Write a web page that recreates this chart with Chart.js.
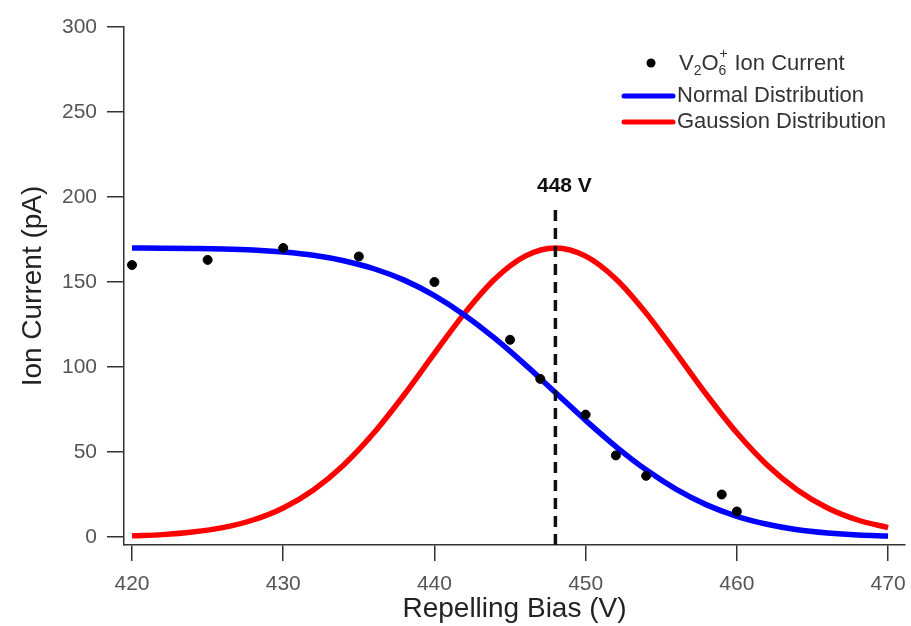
<!DOCTYPE html>
<html>
<head>
<meta charset="utf-8">
<script src="https://cdn.jsdelivr.net/npm/chart.js@4.4.1/dist/chart.umd.min.js"></script>
<style>
  html, body { margin: 0; padding: 0; background: #ffffff; }
  #wrap { position: relative; width: 911px; height: 626px; }
</style>
</head>
<body>
<div id="wrap"><canvas id="c" width="911" height="626"></canvas></div>
<script>
// ---- data ----
const measuredBias    = [420, 425, 430, 435, 440, 445, 447, 450, 452, 454, 459, 460];
const measuredCurrent = [160, 163, 170, 165, 150, 116, 93, 72, 48, 36, 25, 15];

const fitBias   = [420, 422, 424, 426, 428, 430, 432, 434, 436, 438, 440, 442, 444,
                   446, 448, 450, 452, 454, 456, 458, 460, 462, 464, 466, 468, 470];
const normalFit = [170, 169.9, 169.7, 169.4, 168.8, 167.6, 165.7, 162.5, 157.8, 151.1, 142, 130.5, 116.8,
                   101.4, 85, 68.6, 53.2, 39.5, 28, 18.9, 12.2, 7.5, 4.3, 2.4, 1.2, 0.6];
const gaussFit  = [0.7, 1.4, 2.9, 5.5, 10, 17.1, 27.7, 42.4, 61.3, 83.7, 108, 131.7, 151.8,
                   165.2, 170, 165.2, 151.8, 131.7, 108, 83.7, 61.3, 42.4, 27.7, 17.1, 10, 5.5];

const peakBias = [448, 448];
const peakLineCurrent = [-4.7, 195];
const peakLabel = "448 V";

const xTicks = [420, 430, 440, 450, 460, 470];
const yTicks = [0, 50, 100, 150, 200, 250, 300];

const seriesNames = ["Ion Current", "Normal Distribution", "Gaussion Distribution"];
const xTitle = "Repelling Bias (V)";
const yTitle = "Ion Current (pA)";

// ---- build ----
const pts = (xs, ys) => xs.map((x, i) => ({ x: x, y: ys[i] }));
const FONT = "'Liberation Sans', Arial, sans-serif";

const overlay = {
  id: 'overlay',
  afterDatasetsDraw(chart) {
    const ctx = chart.ctx;
    const xs = chart.scales.x, ys = chart.scales.y;
    ctx.save();
    // 448 V label
    ctx.fillStyle = '#111';
    ctx.font = "bold 21px " + FONT;
    ctx.textAlign = 'center';
    ctx.textBaseline = 'middle';
    ctx.fillText(peakLabel, xs.getPixelForValue(peakBias[0]) + 9, ys.getPixelForValue(peakLineCurrent[1]) - 19);

    // legend
    const lx = 624, rowY = [63, 96, 122];
    ctx.textAlign = 'left';
    ctx.textBaseline = 'middle';
    // row 1: marker
    ctx.fillStyle = '#000';
    ctx.beginPath(); ctx.arc(651, rowY[0], 4.5, 0, Math.PI * 2); ctx.fill();
    ctx.fillStyle = '#333';
    let tx = 679;
    const ly = rowY[0] + 1;
    ctx.font = "22px " + FONT;
    ctx.fillText("V", tx, ly); tx += ctx.measureText("V").width;
    ctx.font = "14px " + FONT;
    ctx.fillText("2", tx, ly + 7); tx += ctx.measureText("2").width;
    ctx.font = "22px " + FONT;
    ctx.fillText("O", tx, ly); tx += ctx.measureText("O").width;
    ctx.font = "14px " + FONT;
    ctx.fillText("6", tx, ly + 7);
    ctx.fillText("+", tx + 1, ly - 10); tx += ctx.measureText("6").width + 2;
    ctx.font = "22px " + FONT;
    ctx.fillText(" " + seriesNames[0], tx, ly);
    // rows 2,3
    const cols = ['#0000ff', '#ff0000'];
    for (let i = 0; i < 2; i++) {
      const y = rowY[i + 1];
      ctx.strokeStyle = cols[i]; ctx.lineWidth = 5; ctx.lineCap = 'round';
      ctx.beginPath(); ctx.moveTo(lx, y); ctx.lineTo(673, y); ctx.stroke();
      ctx.fillStyle = '#333';
      ctx.fillText(seriesNames[i + 1], 677, y);
    }
    ctx.restore();
  }
};

new Chart(document.getElementById('c'), {
  type: 'scatter',
  data: {
    datasets: [
      { label: 'peak', data: pts(peakBias, peakLineCurrent), showLine: true, borderColor: '#111',
        borderWidth: 3.5, borderDash: [11, 7], pointRadius: 0, order: 0, clip: false },
      { label: seriesNames[1], data: pts(fitBias, normalFit), showLine: true, borderColor: '#0000ff',
        borderWidth: 5.5, pointRadius: 0, tension: 0.4, cubicInterpolationMode: 'monotone', order: 2, clip: false },
      { label: seriesNames[2], data: pts(fitBias, gaussFit), showLine: true, borderColor: '#ff0000',
        borderWidth: 5.5, pointRadius: 0, tension: 0.4, cubicInterpolationMode: 'monotone', order: 3, clip: false },
      { label: seriesNames[0], data: pts(measuredBias, measuredCurrent), showLine: false,
        backgroundColor: '#000', borderColor: '#000', pointRadius: 4.5, order: 1 }
    ]
  },
  options: {
    responsive: false,
    animation: false,
    layout: { padding: { top: 27, right: 6, left: 0, bottom: 0 } },
    plugins: { legend: { display: false }, tooltip: { enabled: false } },
    scales: {
      x: {
        type: 'linear', min: 419.47, max: 471.12,
        afterBuildTicks: s => { s.ticks = xTicks.map(v => ({ value: v })); },
        afterFit: s => { s.height = 81; s.paddingRight = 0; s.paddingLeft = 0; },
        grid: { display: true, drawOnChartArea: false, drawTicks: true, tickLength: 16, color: '#333', lineWidth: 1.5 },
        border: { display: true, color: '#333', width: 1.5 },
        ticks: { padding: 11, color: '#555', font: { family: FONT, size: 21 }, maxRotation: 0 },
        title: { display: true, text: xTitle, color: '#222', font: { family: FONT, size: 28 }, padding: { top: 0, bottom: 0 } }
      },
      y: {
        type: 'linear', min: -4.7, max: 300,
        afterBuildTicks: s => { s.ticks = yTicks.map(v => ({ value: v })); },
        afterFit: s => { s.width = 124; s.paddingTop = 0; s.paddingBottom = 0; },
        grid: { display: true, drawOnChartArea: false, drawTicks: true, tickLength: 17, color: '#333', lineWidth: 1.5 },
        border: { display: true, color: '#333', width: 1.5 },
        ticks: { padding: 10, color: '#555', font: { family: FONT, size: 21 } },
        title: { display: true, text: yTitle, color: '#222', font: { family: FONT, size: 28 }, padding: { top: 16, bottom: 0 } }
      }
    }
  },
  plugins: [overlay]
});
</script>
</body>
</html>
